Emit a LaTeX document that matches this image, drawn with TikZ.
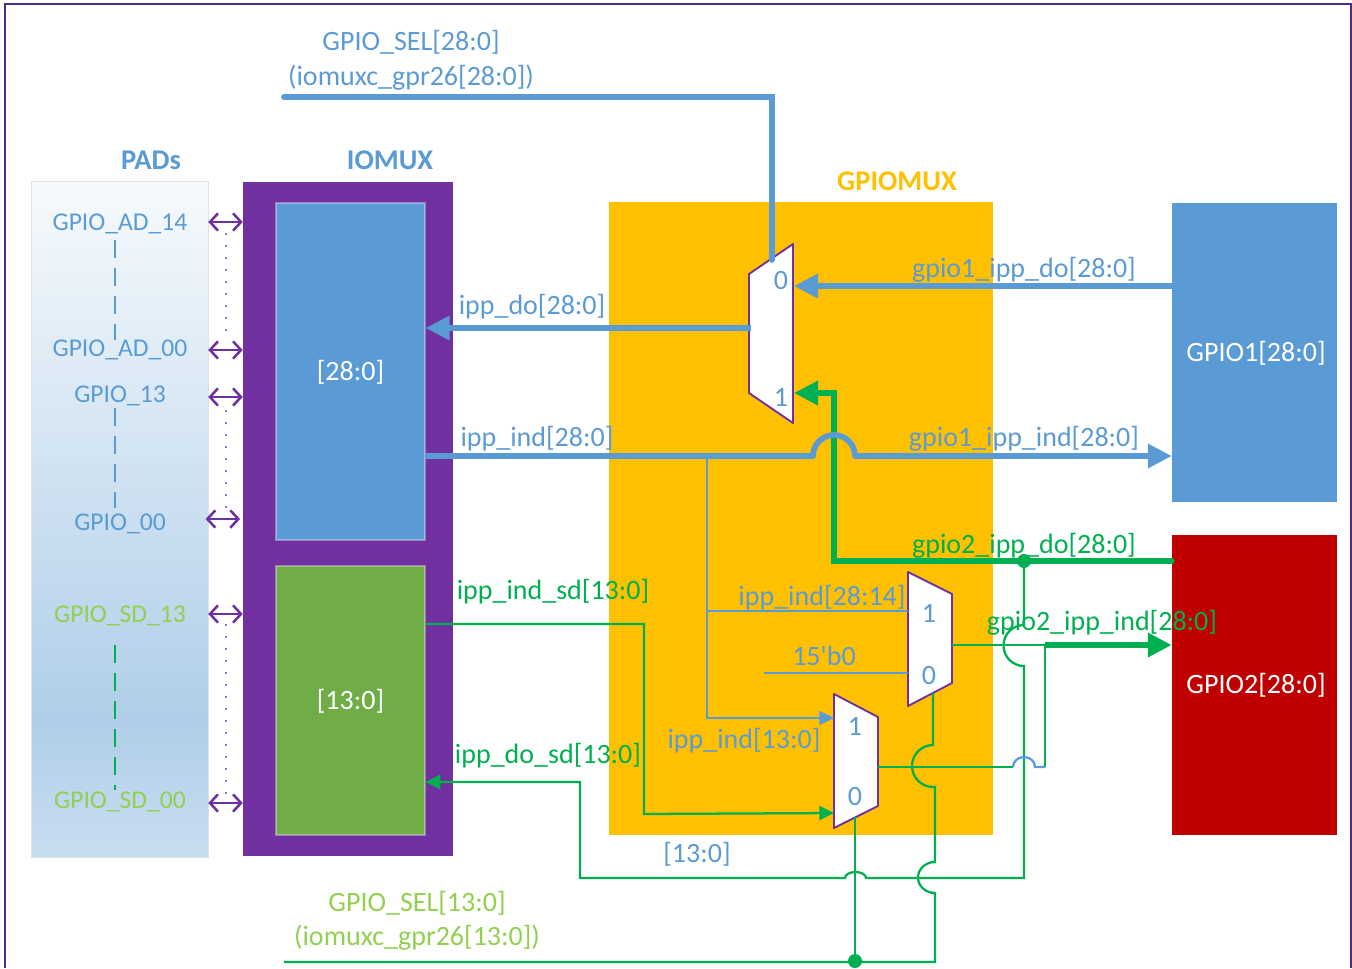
\documentclass[tikz,border=0pt]{standalone}
\usepackage{fontspec}
\setmainfont{Carlito}
\newfontfamily\plainquote{Carlito}
\usetikzlibrary{arrows.meta,positioning}
\definecolor{Frame}{HTML}{4F2A8C}
\definecolor{MuxPurple}{HTML}{7030A0}
\definecolor{BusBlue}{HTML}{5B9BD5}
\definecolor{BusGreen}{HTML}{00B050}
\definecolor{CoreGreen}{HTML}{70AD47}
\definecolor{LabelLime}{HTML}{92D050}
\definecolor{MuxOrange}{HTML}{FFC000}
\definecolor{GpioRed}{HTML}{C00000}
\definecolor{PadTop}{HTML}{F6FAFC}
\definecolor{PadDeep}{HTML}{B0CEE9}
\definecolor{PadFoot}{HTML}{C9DDF0}
\pgfdeclareverticalshading{padshade}{100bp}{
  color(0bp)=(PadFoot); color(25bp)=(PadFoot); color(35bp)=(PadDeep);
  color(75bp)=(PadTop); color(100bp)=(PadTop)}
\tikzset{
  x=0.75pt, y=-0.75pt,
  plate/.style={inner sep=0pt, align=center, text=white, font=\fontsize{21}{23}\selectfont},
  core/.style={plate, draw=white, draw opacity=0.35, line width=0.9pt},
  bluebus/.style={draw=BusBlue, line width=4.3pt, line cap=round},
  greenbus/.style={draw=BusGreen, line width=4.3pt, line cap=round},
  bluewire/.style={draw=BusBlue, line width=1.7pt},
  greenwire/.style={draw=BusGreen, line width=1.7pt},
  bigtip/.style={-{Triangle[length=18pt,width=17.5pt]}},
  smalltip/.style={-{Triangle[length=11pt,width=10.5pt]}},
  padlink/.style={{Straight Barb[length=6pt,width=13pt]}-{Straight Barb[length=6pt,width=13pt]}, draw=MuxPurple, line width=1.9pt},
  padsdots/.style={draw=MuxPurple!70, line width=1.8pt, dash pattern=on 1.6pt off 7.4pt},
  paddash/.style={line width=2pt, dash pattern=on 13.5pt off 7.5pt},
  muxbody/.style={draw=MuxPurple, fill=white, line width=1.4pt, line join=round},
  dotjoin/.style={circle, fill=BusGreen, inner sep=0pt, minimum size=10.5pt},
  bluetext/.style={text=BusBlue, inner sep=0pt, font=\fontsize{21}{23}\selectfont},
  greentext/.style={text=BusGreen, inner sep=0pt, font=\fontsize{21}{23}\selectfont},
  limetext/.style={text=LabelLime, inner sep=0pt, font=\fontsize{21}{23}\selectfont},
  padblue/.style={bluetext, font=\fontsize{19.2}{21}\selectfont},
  padlime/.style={limetext, font=\fontsize{19.2}{21}\selectfont},
  headtext/.style={inner sep=0pt, font=\bfseries\fontsize{21.4}{23}\selectfont},
  platetext/.style={inner sep=0pt, text=white, font=\fontsize{21}{23}\selectfont},
}

\begin{document}
\begin{tikzpicture}
  \useasboundingbox (0,0) rectangle (1352,968);
  \draw[Frame, line width=2.2pt] (5,968) -- (5,4) -- (1351,4) -- (1351,968);

  % Plates and blocks.
  \node[plate, minimum width=132.75pt, minimum height=507pt, draw=black!12, shading=padshade] (pads) at (119.5,519) {};
  \node[plate, minimum width=157.5pt, minimum height=505.5pt, fill=MuxPurple] (iomux) at (348,519) {};
  \node[plate, minimum width=288pt, minimum height=474.75pt, fill=MuxOrange] (gpiomux) at (801,518.5) {};
  \node[core, minimum width=111.75pt, minimum height=252.75pt, fill=BusBlue] (corehigh) at (350.5,371.5) {};
  \node[core, minimum width=111.75pt, minimum height=201.75pt, fill=CoreGreen] (corelow) at (350.5,700.5) {};
  \node[plate, minimum width=123.75pt, minimum height=224.25pt, fill=BusBlue] (gpioa) at (1254.5,352.5) {};
  \node[plate, minimum width=123.75pt, minimum height=225pt, fill=GpioRed] (gpiob) at (1254.5,685) {};

  % Pad to mux links.
  \draw[padlink] (pads.east |- 0,222) -- (iomux.west |- 0,222);
  \draw[padlink] (pads.east |- 0,350) -- (iomux.west |- 0,350);
  \draw[padlink] (pads.east |- 0,397) -- (iomux.west |- 0,397);
  \draw[padlink] ([xshift=-2pt]pads.east |- 0,519) -- ([xshift=-2pt]iomux.west |- 0,519);
  \draw[padlink] (pads.east |- 0,614) -- (iomux.west |- 0,614);
  \draw[padlink] (pads.east |- 0,803) -- (iomux.west |- 0,803);
  \draw[padsdots] (226,233) -- (226,335);
  \draw[padsdots] (226,410) -- (226,510);
  \draw[padsdots] (226,624) -- (226,795);
  \draw[BusBlue, paddash] (115,240) -- (115,340);
  \draw[BusBlue, paddash] (115,408) -- (115,508);
  \draw[BusGreen, paddash] (115,645) -- (115,790);

  % Mux bodies.
  \draw[muxbody] (749,274) -- (793,244) -- (793,423) -- (749,393) -- cycle;
  \draw[muxbody] (908,572) -- (952,594) -- (952,683) -- (908,706) -- cycle;
  \draw[muxbody] (834,694) -- (878,717) -- (878,806) -- (834,828) -- cycle;

  % Pins and free ends.
  \coordinate (selhighin) at (284,97);
  \coordinate (muxatop) at (772,260);
  \coordinate (muxaleft) at (751,328);
  \coordinate (muxapinzero) at (794,286);
  \coordinate (muxapinone) at (794,393);
  \coordinate (muxbpinone) at (908,611);
  \coordinate (muxbpinzero) at (908,673);
  \coordinate (muxbout) at (952,645);
  \coordinate (muxbsel) at (933,693);
  \coordinate (muxcpinone) at (834,718);
  \coordinate (muxcpinzero) at (834,813);
  \coordinate (muxcout) at (878,767);
  \coordinate (muxcsel) at (855,817);
  \coordinate (zeroin) at (764,673);
  \coordinate (sellowin) at (284,962);
  \coordinate (merge) at (1045,645);
  \coordinate (indtap) at (707,456);
  \coordinate (indmid) at (707,611);

  % Thick 28 bit buses.
  \draw[bluebus] (selhighin) -- (772,97) -- (muxatop);
  \draw[bluebus, line cap=butt, bigtip] (muxaleft) -- (corehigh.east |- muxaleft);
  \draw[bluebus, line cap=butt, bigtip] (gpioa.west |- muxapinzero) -- (muxapinzero);
  \draw[greenbus, bigtip] (gpiob.west |- 0,561) -- (834,561) -- (834,393) -- (muxapinone);
  \draw[bluebus, line cap=butt, line join=round, -{Triangle[length=18pt,width=17.5pt]}]
    (corehigh.east |- 0,456) -- (813,456) arc (180:360:21) -- (gpioa.west |- 0,456);
  \draw[greenbus, line cap=butt, bigtip] (merge) -- (gpiob.west |- merge);

  % Thin branches.
  \draw[bluewire, smalltip] (indtap) -- (707,718) -- (muxcpinone);
  \draw[bluewire] (indmid) -- (muxbpinone);
  \draw[bluewire] (zeroin) -- (muxbpinzero);
  \draw[greenwire, smalltip] (corelow.east |- 0,624) -- (644,624) -- (644,814) -- (muxcpinzero);
  \draw[greenwire, smalltip] (1024,561) -- (1024,625) arc (270:90:20.5) -- (1024,878)
    -- (866,878) arc (360:180:10.5 and 6) -- (580,878) -- (580,782) -- (corelow.east |- 0,782);
  \draw[greenwire] (muxbout) -- (merge);
  \draw[greenwire] (muxcout) -- (1013,767);
  \draw[bluewire] (1013,767) arc (180:360:11 and 10) -- (1045,767);
  \draw[greenwire] (1045,767) -- (merge);
  \draw[greenwire] (muxbsel) -- (933,745) arc (270:90:21) -- (935,787) -- (935,862)
    arc (270:90:17 and 15.5) -- (935,962) -- (sellowin);
  \draw[greenwire] (muxcsel) -- (855,961);
  \node[dotjoin] (joinhigh) at (1024,561) {};
  \node[dotjoin] (joinlow) at (855,961) {};

  % Headings and labels.
  \node[headtext, text=BusBlue] (padstitle) at (151,160) {PADs};
  \node[headtext, text=BusBlue] (iomuxtitle) at (390,160) {IOMUX};
  \node[headtext, text=MuxOrange] (gpiomuxtitle) at (897,181) {GPIOMUX};
  \node[platetext] (corehighrange) at (350.5,372) {[28:0]};
  \node[platetext] (corelowrange) at (350.5,701) {[13:0]};
  \node[platetext] (gpioaname) at (1256,353) {GPIO1[28:0]};
  \node[platetext] (gpiobname) at (1256,685) {GPIO2[28:0]};
  \node[bluetext] (selhigh) at (411,42) {GPIO\_SEL[28:0]};
  \node[bluetext] (selhighreg) at (411,78) {(iomuxc\_gpr26[28:0])};
  \node[limetext] (sellow) at (417,903) {GPIO\_SEL[13:0]};
  \node[limetext] (sellowreg) at (417,938) {(iomuxc\_gpr26[13:0])};

  \node[padblue] (padadhigh) at (120,223.5) {GPIO\_AD\_14};
  \node[padblue] (padadlow) at (120,349.5) {GPIO\_AD\_00};
  \node[padblue] (padhigh) at (120,395.5) {GPIO\_13};
  \node[padblue] (padlow) at (120,523.5) {GPIO\_00};
  \node[padlime] (padsdhigh) at (120,615.5) {GPIO\_SD\_13};
  \node[padlime] (padsdlow) at (120,801.5) {GPIO\_SD\_00};

  \node[bluetext] (ippdo) at (532,307) {ipp\_do[28:0]};
  \node[bluetext] (ippind) at (537,439) {ipp\_ind[28:0]};
  \node[greentext] (ippindsd) at (553,592) {ipp\_ind\_sd[13:0]};
  \node[greentext] (ippdosd) at (548,756) {ipp\_do\_sd[13:0]};
  \node[bluetext] (gpioado) at (1024,270) {gpio1\_ipp\_do[28:0]};
  \node[bluetext] (gpioaind) at (1024,439) {gpio1\_ipp\_ind[28:0]};
  \node[greentext] (gpiobdo) at (1024,546) {gpio2\_ipp\_do[28:0]};
  \node[greentext] (gpiobind) at (1102,623) {gpio2\_ipp\_ind[28:0]};
  \node[bluetext] (indupper) at (822,598) {ipp\_ind[28:14]};
  \node[bluetext] (zerolabel) at (824,656) {{\plainquote 15'b0}};
  \node[bluetext] (indlower) at (744,741) {ipp\_ind[13:0]};
  \node[bluetext] (lowrange) at (697,854) {[13:0]};

  \node[bluetext] (muxazero) at (781,281) {0};
  \node[bluetext] (muxaone) at (781,397) {1};
  \node[bluetext] (muxbone) at (929,613) {1};
  \node[bluetext] (muxbzero) at (929,675) {0};
  \node[bluetext] (muxcone) at (855,726) {1};
  \node[bluetext] (muxczero) at (855,796) {0};
\end{tikzpicture}
\end{document}
